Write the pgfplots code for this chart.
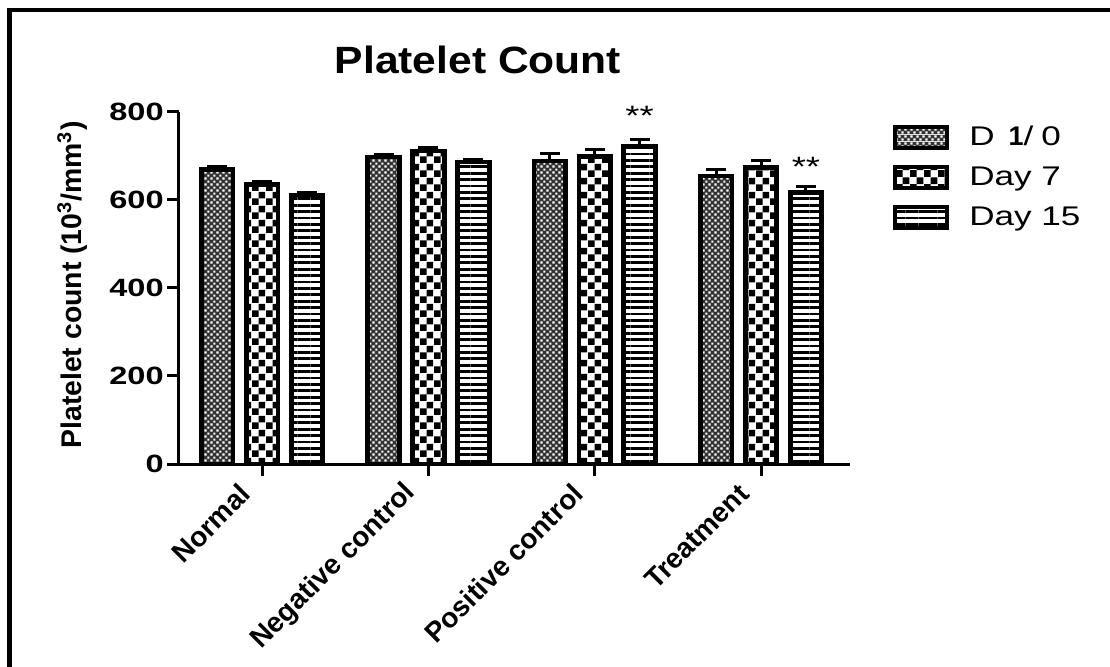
\documentclass[border=0pt]{standalone}
\usepackage{pgfplots}
\pgfplotsset{compat=1.18}
\usepackage{pgfplotstable}
\usepackage{fontspec}
\setmainfont{Liberation Sans}
\newfontfamily\wide[FakeStretch=1.3]{Liberation Sans}
\newfontfamily\titlefont[FakeStretch=1.12]{Liberation Sans}
\usetikzlibrary{patterns,patterns.meta}

\tikzdeclarepattern{
  name=bigchecker,
  type=uncolored,
  bottom left={(0pt,0pt)},
  top right={(7pt,7pt)},
  tile size={(7pt,7pt)},
  code={
    \fill (0pt,0pt) rectangle (3.5pt,3.5pt);
    \fill (3.5pt,3.5pt) rectangle (7pt,7pt);
  }
}
\tikzdeclarepattern{
  name=dotgrid,
  type=colored,
  bottom left={(0pt,0pt)},
  top right={(3.2pt,3.2pt)},
  tile size={(3.2pt,3.2pt)},
  code={
    \fill[black!80] (0pt,0pt) rectangle (3.2pt,3.2pt);
    \fill[white] (0.2pt,0.2pt) rectangle (1.4pt,1.4pt);
    \fill[white] (1.8pt,1.8pt) rectangle (3.0pt,3.0pt);
  }
}
\pgfplotsset{boxlegend/.style={legend image code/.code={\draw[##1, line width=2pt] (0pt,-5.25pt) rectangle (26pt,5.25pt);}}}

\pgfplotstableread{
x y e
0 669 7
1 697 5
2 688 16
3 654 15
}\dayzero
\pgfplotstableread{
x y e
0 635 6
1 711 7
2 699 16
3 674 16
}\dayseven
\pgfplotstableread{
x y e
0 611 5
1 686 5
2 721 15
3 617 14
}\dayfifteen

\begin{document}
\begin{tikzpicture}
\path[use as bounding box] (0,0) rectangle (555pt,333pt);
\draw[line width=2.4pt, line join=miter] (4.6pt,-2pt) -- (4.6pt,328pt) -- (557pt,328pt);
\begin{axis}[
  at={(89.5pt,101pt)}, anchor=south west,
  scale only axis, width=335.5pt, height=176.15pt,
  xmin=-0.5, xmax=3.535, ymin=0, ymax=800,
  axis lines*=left,
  axis line style={line width=1.5pt, black},
  clip=false,
  ybar,
  bar width=0.19,
  ytick={0,200,400,600,800},
  xtick={0,1,2,3},
  xticklabels={Normal,Negative control,Positive control,Treatment},
  tick align=outside,
  major tick length=6pt,
  tick style={line width=1.5pt, black},
  /pgf/number format/assume math mode=true,
  yticklabel style={font=\wide\bfseries\fontsize{12.5}{14}\selectfont, inner sep=1.5pt},
  xticklabel style={font=\bfseries\fontsize{14}{16}\selectfont, xshift=-7pt, yshift=-5pt, rotate=45, anchor=east, inner sep=2pt},
  title={Platelet Count},
  title style={font=\titlefont\bfseries\fontsize{19}{22}\selectfont, at={(axis description cs:0.4456,1)}, anchor=center, yshift=20pt},
  ylabel={Platelet count (10\textsuperscript{3}/mm\textsuperscript{3})},
  ylabel style={font=\bfseries\fontsize{14.2}{16}\selectfont, at={(axis description cs:-0.159,0.508)}, anchor=center},
  legend style={at={(axis description cs:1.064,0.966)}, anchor=north west, draw=none, fill=none,
    font=\wide\fontsize{13.5}{15}\selectfont, row sep=7.2pt, inner sep=0pt,
    nodes={inner sep=1pt},
    /tikz/every odd column/.append style={column sep=9pt}},
  legend cell align=left,
]
\addplot[draw=black, line width=2.4pt, pattern=dotgrid, bar shift=-0.27, boxlegend,
  error bars/.cd, y dir=plus, y explicit,
  error bar style={line width=1.5pt, black},
  error mark options={rotate=90, line width=1.5pt, mark size=5pt, black}]
  table[x=x, y=y, y error=e] {\dayzero};
\addlegendentry{D\hspace{7pt}{\rmfamily\bfseries 1}/\hspace{4pt}0}
\addplot[draw=black, line width=2.4pt, pattern=bigchecker, pattern color=black, bar shift=0, boxlegend,
  error bars/.cd, y dir=plus, y explicit,
  error bar style={line width=1.5pt, black},
  error mark options={rotate=90, line width=1.5pt, mark size=5pt, black}]
  table[x=x, y=y, y error=e] {\dayseven};
\addlegendentry{Day 7}
\addplot[draw=black, line width=2.4pt, pattern={Lines[angle=0, distance=3.2pt, line width=1.4pt]}, pattern color=black, bar shift=0.27, boxlegend,
  error bars/.cd, y dir=plus, y explicit,
  error bar style={line width=1.5pt, black},
  error mark options={rotate=90, line width=1.5pt, mark size=5pt, black}]
  table[x=x, y=y, y error=e] {\dayfifteen};
\addlegendentry{Day 15}
\node[font=\wide\fontsize{14}{16}\selectfont, anchor=base] at (axis cs:2.27,768) {**};
\node[font=\wide\fontsize{14}{16}\selectfont, anchor=base] at (axis cs:3.27,652) {**};
\end{axis}
\end{tikzpicture}
\end{document}
